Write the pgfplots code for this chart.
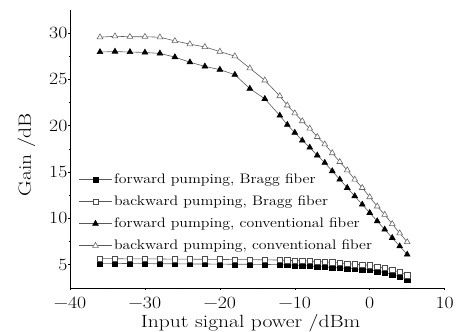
\documentclass[border=0pt]{standalone}
\usepackage{fontspec}
\setmainfont{Latin Modern Roman}[FakeStretch=1.22]
\newfontfamily\tickfont{Latin Modern Roman}[FakeStretch=1.15]
\usepackage{pgfplots}
\pgfplotsset{compat=1.18}
\begin{document}
\begin{tikzpicture}
\begin{axis}[
  scale only axis,
  width=380bp, height=282bp,
  xmin=-40, xmax=10, ymin=2.5, ymax=32.5,
  axis lines=left,
  axis line style={-, black, line width=0.7pt},
  xtick={-40,-30,...,10}, ytick={5,10,...,30},
  xticklabels={−40,−30,−20,−10,0,10},
  minor xtick={-35,-25,...,5}, minor ytick={7.5,12.5,...,27.5},
  /pgf/number format/assume math mode=true,
  tick align=outside, tick style={black, line width=0.5pt},
  major tick length=2bp, minor tick length=1.5bp,
  tick label style={font=\tickfont\fontsize{17.5}{19}\selectfont},
  xticklabel style={anchor=base, yshift=-19bp},
  yticklabel style={inner xsep=0.5bp},
  label style={font=\fontsize{18}{20}\selectfont},
  xlabel={Input signal power /dBm},
  ylabel={Gain /dB},
  xlabel style={at={(axis description cs:0.482,-0.142)}, anchor=base, inner sep=0pt},
  ylabel style={at={(axis description cs:-0.092,0.479)}, anchor=south, inner sep=0pt, rotate=0},
  legend style={draw=none, fill=none, at={(0.022,0.418)}, anchor=north west,
    font=\tickfont\fontsize{14}{16}\selectfont, row sep=6.3bp, inner sep=0pt,
    nodes={inner sep=1.5bp, text height=10bp, text depth=3bp}},
  legend cell align=left,
  legend image code/.code={\draw[mark repeat=2,mark phase=2,#1] plot coordinates {(0bp,0bp)(17bp,0bp)(34bp,0bp)};},
  every axis plot/.append style={line width=0.6pt, color=black!65},
]
\addplot[mark=square*, mark size=2.7pt, mark options={fill=black, draw=black}] coordinates {
(-36,5.15)(-34,5.15)(-32,5.12)(-30,5.12)(-28,5.1)(-26,5.1)(-24,5.08)(-22,5.08)(-20,5.06)(-18,5.05)(-16,5.05)(-14,5.03)(-12,5.0)
(-11,4.98)(-10,4.95)(-9,4.9)(-8,4.85)(-7,4.8)(-6,4.75)(-5,4.7)(-4,4.65)(-3,4.6)(-2,4.55)(-1,4.5)(0,4.45)(1,4.3)(2,4.15)(3,3.95)(4,3.7)(5,3.4)};
\addlegendentry{forward pumping, Bragg fiber}
\addplot[mark=square*, mark size=2.7pt, mark options={fill=white, draw=black!70}] coordinates {
(-36,5.65)(-34,5.65)(-32,5.63)(-30,5.63)(-28,5.62)(-26,5.6)(-24,5.6)(-22,5.58)(-20,5.57)(-18,5.55)(-16,5.55)(-14,5.53)(-12,5.5)
(-11,5.47)(-10,5.45)(-9,5.42)(-8,5.4)(-7,5.35)(-6,5.3)(-5,5.25)(-4,5.2)(-3,5.12)(-2,5.05)(-1,5.0)(0,4.95)(1,4.8)(2,4.65)(3,4.45)(4,4.2)(5,3.85)};
\addlegendentry{backward pumping, Bragg fiber}
\addplot[mark=triangle*, mark size=3.4pt, mark options={fill=black, draw=black}] coordinates {
(-36,27.95)(-34,28.0)(-32,27.95)(-30,27.9)(-28,27.8)(-26,27.4)(-24,26.85)(-22,26.4)(-20,26.05)(-18,25.5)(-16,24.0)(-14,22.9)(-12,21.1)
(-11,20.1)(-10,19.25)(-9,18.4)(-8,17.65)(-7,16.8)(-6,16.0)(-5,15.1)(-4,14.2)(-3,13.3)(-2,12.4)(-1,11.5)(0,10.6)(1,9.7)(2,8.8)(3,7.9)(4,7.0)(5,6.1)};
\addlegendentry{forward pumping, conventional fiber}
\addplot[mark=triangle*, mark size=3.4pt, mark options={fill=white, draw=black!60}] coordinates {
(-36,29.55)(-34,29.65)(-32,29.6)(-30,29.6)(-28,29.55)(-26,29.15)(-24,28.8)(-22,28.5)(-20,28.0)(-18,27.5)(-16,26.2)(-14,24.9)(-12,23.2)
(-11,22.2)(-10,21.35)(-9,20.5)(-8,19.7)(-7,18.8)(-6,18.0)(-5,17.05)(-4,16.1)(-3,15.2)(-2,14.2)(-1,13.3)(0,12.3)(1,11.3)(2,10.4)(3,9.4)(4,8.4)(5,7.45)};
\addlegendentry{backward pumping, conventional fiber}
\end{axis}
\path ([xshift=-71bp, yshift=-43bp]current axis.south west) rectangle ([xshift=6bp, yshift=10bp]current axis.north east);
\end{tikzpicture}
\end{document}
